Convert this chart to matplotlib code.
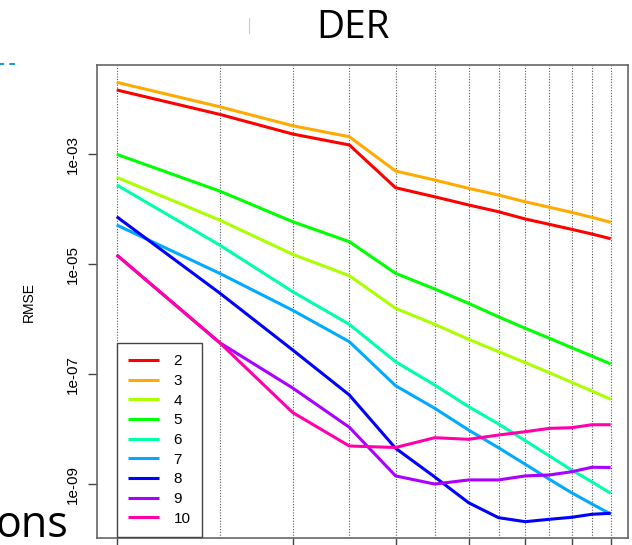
import numpy as np
import matplotlib
matplotlib.use('Agg')
import matplotlib.pyplot as plt
from matplotlib.lines import Line2D

plt.rcParams['font.family'] = ['Liberation Sans', 'DejaVu Sans']

# grid size on the x axis (log scale)
x = [2, 3, 4, 5, 6, 7, 8, 9, 10, 11, 12, 13, 14]
x_ticks = [2, 4, 6, 8, 10, 12, 14]

# RMSE per order
rmse = {
    '2': [1.48e-2, 5.33e-3, 2.34e-3, 1.48e-3, 2.47e-4, 1.69e-4, 1.20e-4, 9.04e-5, 6.67e-5, 5.33e-5, 4.33e-5, 3.56e-5, 2.92e-5],
    '3': [2.04e-2, 7.33e-3, 3.31e-3, 2.09e-3, 4.97e-4, 3.41e-4, 2.41e-4, 1.82e-4, 1.37e-4, 1.09e-4, 8.81e-5, 7.16e-5, 5.81e-5],
    '4': [3.82e-4, 6.38e-5, 1.52e-5, 6.21e-6, 1.58e-6, 8.11e-7, 4.33e-7, 2.58e-7, 1.63e-7, 1.07e-7, 7.16e-8, 4.97e-8, 3.51e-8],
    '5': [1.00e-3, 2.15e-4, 5.95e-5, 2.58e-5, 6.86e-6, 3.56e-6, 1.95e-6, 1.11e-6, 6.86e-7, 4.52e-7, 3.05e-7, 2.15e-7, 1.54e-7],
    '6': [2.77e-4, 2.24e-5, 3.18e-6, 8.11e-7, 1.69e-7, 6.38e-8, 2.58e-8, 1.25e-8, 6.21e-9, 3.27e-9, 1.82e-9, 1.11e-9, 6.86e-10],
    '7': [5.18e-5, 6.86e-6, 1.46e-6, 3.92e-7, 6.21e-8, 2.41e-8, 9.70e-9, 4.62e-9, 2.31e-9, 1.23e-9, 7.03e-10, 4.39e-10, 2.88e-10],
    '8': [7.33e-5, 3.01e-6, 2.77e-7, 4.21e-8, 4.52e-9, 1.36e-9, 4.62e-10, 2.47e-10, 2.09e-10, 2.31e-10, 2.51e-10, 2.85e-10, 2.97e-10],
    '9': [1.48e-5, 3.76e-7, 5.64e-8, 1.09e-8, 1.42e-9, 1.01e-9, 1.20e-9, 1.20e-9, 1.42e-9, 1.48e-9, 1.69e-9, 2.04e-9, 2.02e-9],
    '10': [1.48e-5, 3.76e-7, 2.02e-8, 4.97e-9, 4.67e-9, 7.03e-9, 6.58e-9, 7.87e-9, 9.04e-9, 1.04e-8, 1.07e-8, 1.21e-8, 1.21e-8],
}
# R rainbow(9)
colors = ['#FF0000', '#FFAA00', '#AAFF00', '#00FF00', '#00FFAA',
          '#00AAFF', '#0000FF', '#AA00FF', '#FF00AA']

y_ticks = [1e-9, 1e-7, 1e-5, 1e-3]
y_labels = ['1e-09', '1e-07', '1e-05', '1e-03']

fig = plt.figure(figsize=(6.32, 5.45), dpi=100)
ax = fig.add_axes([0.1527, 0.0123, 0.841, 0.8684])

for (name, vals), c in zip(rmse.items(), colors):
    ax.plot(x, vals, color=c, lw=2.2, label=name, solid_capstyle='butt')

ax.set_xscale('log')
ax.set_yscale('log')
ax.set_xlim(1.847, 14.99)
ax.set_ylim(10 ** -9.982, 10 ** -1.376)

ax.xaxis.set_major_locator(matplotlib.ticker.FixedLocator(x_ticks))
ax.xaxis.set_minor_locator(matplotlib.ticker.FixedLocator(x))
ax.xaxis.set_major_formatter(matplotlib.ticker.NullFormatter())
ax.xaxis.set_minor_formatter(matplotlib.ticker.NullFormatter())
ax.tick_params(axis='x', which='major', length=6.5, width=1, color='#444444', labelbottom=False)
ax.tick_params(axis='x', which='minor', length=0)
ax.grid(True, axis='x', which='both', linestyle=(0, (1, 1.5)), color='#555555', lw=0.8)

ax.yaxis.set_major_locator(matplotlib.ticker.FixedLocator(y_ticks))
ax.yaxis.set_minor_locator(matplotlib.ticker.NullLocator())
ax.set_yticklabels(y_labels, rotation=90, va='center', fontsize=11)
ax.tick_params(axis='y', length=6.5, width=1, color='#444444', pad=5.5)
ax.set_ylabel('RMSE', fontsize=10)
ax.yaxis.set_label_coords(-0.114, 0.5)

for s in ax.spines.values():
    s.set_color('#666666')
    s.set_linewidth(1.2)

leg = ax.legend(loc='lower left', bbox_to_anchor=(0.038, 0.0034), borderaxespad=0,
                fontsize=11, frameon=True, fancybox=False, framealpha=1,
                edgecolor='#444444', borderpad=0.73, handlelength=2.07,
                handletextpad=0.92, labelspacing=0.37)
leg.get_frame().set_linewidth(1.0)

# slide leftovers around the chart
fig.text(353 / 632, 1 - 38 / 545, 'DER', ha='center', va='baseline',
         fontsize=28, family='Open Sans')
fig.text(-4 / 632, 1 - 537 / 545, 'ons', ha='left', va='baseline',
         fontsize=31, family='Open Sans')
fig.add_artist(Line2D([0 / 632, 15 / 632], [1 - 64 / 545] * 2, color='#1E9AD6',
                      lw=1.5, ls=(2, (4, 2.5))))
fig.add_artist(Line2D([249 / 632] * 2, [1 - 18 / 545, 1 - 33 / 545],
                      color='#CCCCCC', lw=0.8))

fig.savefig('out.png', dpi=100)
